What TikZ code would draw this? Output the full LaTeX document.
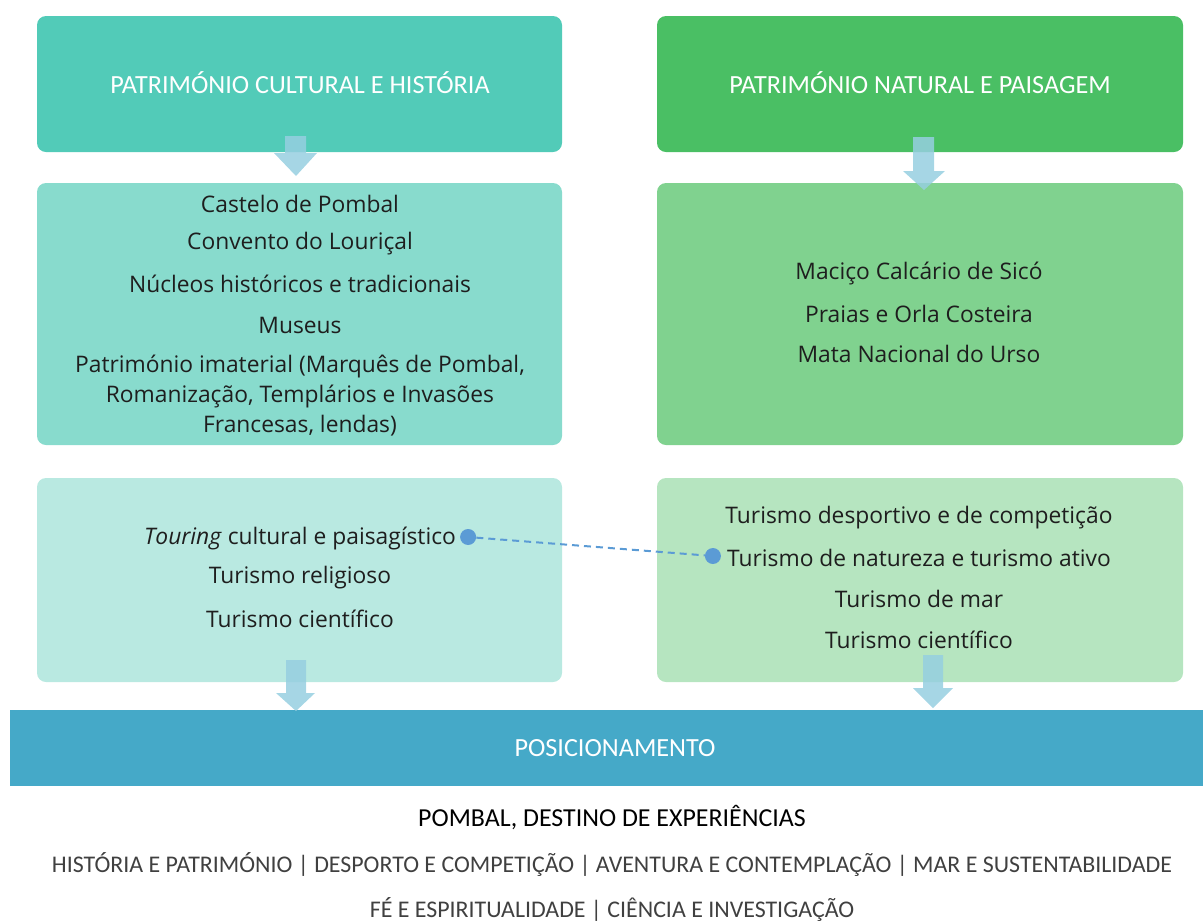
\documentclass[tikz,border=0pt]{standalone}
\usepackage{fontspec}
\setmainfont{Open Sans}
\newfontfamily\capsfont{Carlito}
\usetikzlibrary{calc}
\definecolor{boxA}{RGB}{82,203,184}
\definecolor{boxB}{RGB}{74,191,100}
\definecolor{boxC}{RGB}{136,219,205}
\definecolor{boxD}{RGB}{128,210,143}
\definecolor{boxE}{RGB}{185,233,225}
\definecolor{boxF}{RGB}{182,229,192}
\definecolor{barc}{RGB}{69,169,200}
\definecolor{arrc}{RGB}{150,207,224}
\definecolor{dotc}{RGB}{91,155,213}
\definecolor{txt}{RGB}{30,30,30}
\definecolor{subtxt}{RGB}{64,64,64}
\tikzset{
  panel/.style={fill=#1, draw=none, rounded corners=9pt},
  body/.style={font=\fontsize{22.8}{30}\selectfont, text=txt, inner sep=0pt, align=center},
  head/.style={font=\capsfont\fontsize{26.2}{30}\selectfont, text=white, inner sep=0pt},
  blockarrow/.style={fill=arrc, fill opacity=0.85, draw=none},
  dot/.style={circle, fill=dotc, inner sep=0pt, minimum size=16pt},
  link/.style={draw=dotc, dashed, dash pattern=on 7pt off 5pt, line width=2pt}
}
\begin{document}
\begin{tikzpicture}[x=1pt,y=-1pt]
\useasboundingbox (0,0) rectangle (1203,922);
% panels
\path[panel=boxA] (37,16) rectangle (562,152);
\path[panel=boxB] (657,16) rectangle (1183,152);
\path[panel=boxC] (37,183) rectangle (562,445);
\path[panel=boxD] (657,183) rectangle (1183,445);
\path[panel=boxE] (37,478) rectangle (562,682);
\path[panel=boxF] (657,478) rectangle (1183,682);
\fill[barc] (10,710) rectangle (1203,786);
% headings
\node[head] (h1) at (300,83) {PATRIMÓNIO CULTURAL E HISTÓRIA};
\node[head] (h2) at (920,83) {PATRIMÓNIO NATURAL E PAISAGEM};
\node[head] (h3) at (615,748) {POSICIONAMENTO};
% block arrows
\path[blockarrow] (285,136) -- (306,136) -- (306,153) -- (317,153) -- (296,176) -- (274,153) -- (285,153) -- cycle;
\path[blockarrow] (913,137) -- (934,137) -- (934,171) -- (945,171) -- (924,190) -- (903,171) -- (913,171) -- cycle;
\path[blockarrow] (286,660) -- (306,660) -- (306,693) -- (315,693) -- (296,711) -- (276,693) -- (286,693) -- cycle;
\path[blockarrow] (923,655) -- (943,655) -- (943,688) -- (953,688) -- (933,708) -- (913,688) -- (923,688) -- cycle;
% box C text
\node[body] (c1) at (300,204) {Castelo de Pombal};
\node[body] (c2) at (300,244) {Convento do Louriçal};
\node[body] (c3) at (300,284) {Núcleos históricos e tradicionais};
\node[body] (c4) at (300,325) {Museus};
\node[body] (c5) at (300,396) {Património imaterial (Marquês de Pombal,\\Romanização, Templários e Invasões\\Francesas, lendas)};
% box D text
\node[body] (d1) at (919,273) {Maciço Calcário de Sicó};
\node[body] (d2) at (919,314) {Praias e Orla Costeira};
\node[body] (d3) at (919,354) {Mata Nacional do Urso};
% box E text
\node[body] (e1) at (300,538) {\textit{Touring} cultural e paisagístico};
\node[body] (e2) at (300,578) {Turismo religioso};
\node[body] (e3) at (300,619) {Turismo científico};
% box F text
\node[body] (f1) at (919,518) {Turismo desportivo e de competição};
\node[body] (f2) at (919,558) {Turismo de natureza e turismo ativo};
\node[body] (f3) at (919,599) {Turismo de mar};
\node[body] (f4) at (919,640) {Turismo científico};
% dashed link
\node[dot] (p1) at ($(e1.east)+(12,-1)$) {};
\node[dot] (p2) at ($(f2.west)+(-14,-2)$) {};
\draw[link] (p1) -- (p2);
% bottom text
\node[font=\capsfont\fontsize{25.9}{30}\selectfont, text=black, inner sep=0pt] (s1) at (612,818) {POMBAL, DESTINO DE EXPERIÊNCIAS};
\node[font=\capsfont\fontsize{23.9}{28}\selectfont, text=subtxt, inner sep=0pt] (s2) at (612,865) {HISTÓRIA E PATRIMÓNIO | DESPORTO E COMPETIÇÃO | AVENTURA E CONTEMPLAÇÃO | MAR E SUSTENTABILIDADE};
\node[font=\capsfont\fontsize{23.9}{28}\selectfont, text=subtxt, inner sep=0pt] (s3) at (612,910) {FÉ E ESPIRITUALIDADE | CIÊNCIA E INVESTIGAÇÃO};
\end{tikzpicture}
\end{document}
